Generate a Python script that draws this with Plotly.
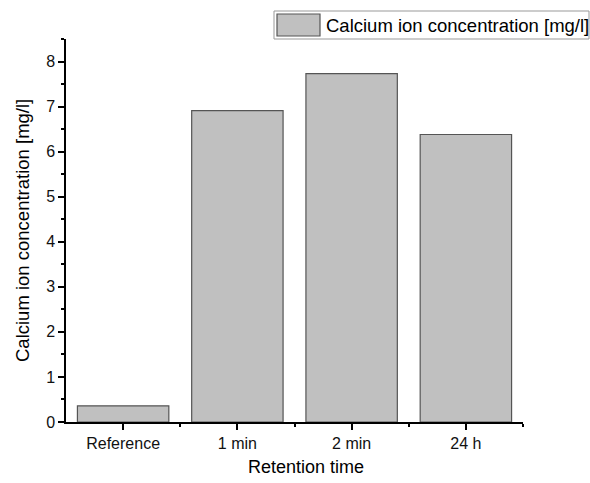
import plotly.graph_objects as go

categories = ["Reference", "1 min", "2 min", "24 h"]
values = [0.36, 6.91, 7.73, 6.38]
series_name = "Calcium ion concentration [mg/l]"
x_title = "Retention time"
y_title = "Calcium ion concentration [mg/l]"
y_ticks = [0, 1, 2, 3, 4, 5, 6, 7, 8]

FONT = "Liberation Sans, Arial, sans-serif"
W, H = 590, 483
L, R, T, B = 66, 67, 39, 61
pw, ph = W - L - R, H - T - B

def px_x(x):
    return (x - L) / pw

def px_y(y):
    return (H - B - y) / ph

xs = list(range(len(categories)))

fig = go.Figure()
fig.add_trace(go.Bar(
    x=xs, y=values, width=0.8, name=series_name,
    marker=dict(color="#c0c0c0", line=dict(color="#555555", width=1.2)),
    showlegend=False,
))

fig.update_layout(
    width=W, height=H,
    margin=dict(l=L, r=R, t=T, b=B, pad=0, autoexpand=False),
    plot_bgcolor="white", paper_bgcolor="white",
    font=dict(family=FONT, size=16, color="black"),
    bargap=0.2,
)
fig.update_xaxes(
    range=[-0.5, 3.5], tickvals=xs, ticktext=categories,
    showline=True, linecolor="black", linewidth=1.5,
    ticks="outside", ticklen=6, tickwidth=1.5, tickcolor="black",
    minor=dict(tickvals=[0.5, 1.5, 2.5, 3.5], ticks="outside", ticklen=3, tickwidth=1.5, tickcolor="black"),
    showgrid=False, zeroline=False, automargin=False,
    tickfont=dict(size=16, color="#111111"),
)
fig.update_yaxes(
    range=[0, 8.5], tickvals=y_ticks,
    showline=True, linecolor="black", linewidth=1.5,
    ticks="outside", ticklen=6, tickwidth=1.5, tickcolor="black",
    minor=dict(dtick=0.5, ticks="outside", ticklen=3, tickwidth=1.5, tickcolor="black"),
    showgrid=False, zeroline=False, automargin=False,
    tickfont=dict(size=16, color="#111111"),
)

# axis titles
fig.add_annotation(xref="paper", yref="paper", x=px_x(306), y=px_y(467),
                   text=x_title, showarrow=False, xanchor="center", yanchor="middle",
                   font=dict(size=18, family=FONT, color="black"))
fig.add_annotation(xref="paper", yref="paper", x=px_x(22), y=px_y(231),
                   text=y_title, showarrow=False, xanchor="center", yanchor="middle",
                   textangle=-90, font=dict(size=18.5, family=FONT, color="black"))

# legend box drawn manually to match the large swatch
fig.add_shape(type="rect", xref="paper", yref="paper",
              x0=px_x(274), x1=px_x(589), y0=px_y(39), y1=px_y(11),
              line=dict(color="#999999", width=1), fillcolor="white", layer="above")
fig.add_shape(type="rect", xref="paper", yref="paper",
              x0=px_x(277), x1=px_x(320), y0=px_y(36), y1=px_y(14),
              line=dict(color="#555555", width=1.2), fillcolor="#c0c0c0", layer="above")
fig.add_annotation(xref="paper", yref="paper", x=px_x(324), y=px_y(25),
                   text=series_name, showarrow=False, xanchor="left", yanchor="middle",
                   font=dict(size=18.5, family=FONT, color="black"))

fig.write_html("out.html")
